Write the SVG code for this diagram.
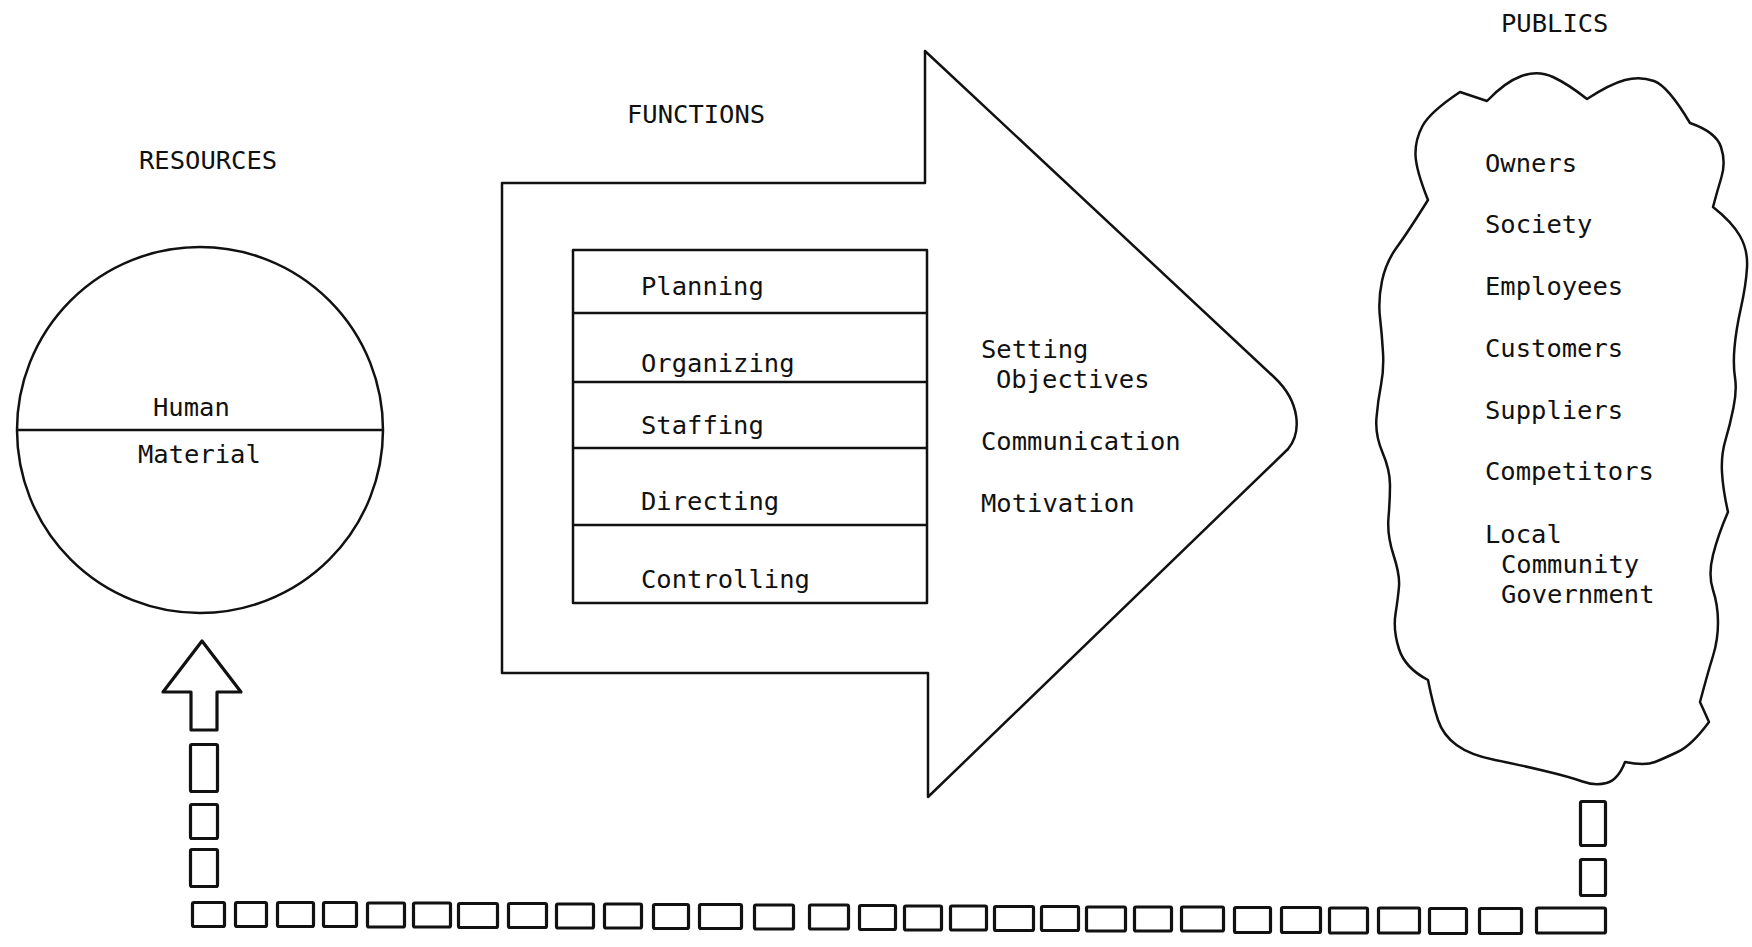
<svg xmlns="http://www.w3.org/2000/svg" width="1752" height="947" viewBox="0 0 1752 947">
<style>
.t{font-family:"DejaVu Sans Mono","Liberation Mono",monospace;font-size:25.5px;fill:#111}
.o{fill:none;stroke:#111;stroke-width:2.5;stroke-linejoin:round}
.b{fill:none;stroke:#111;stroke-width:3.2;stroke-linejoin:round}
</style>
<rect width="1752" height="947" fill="#fff"/>
<g id="resources">
<text class="t" x="139" y="169">RESOURCES</text>
<circle class="o" cx="200" cy="430" r="183" stroke-width="2"/>
<line class="o" x1="17" y1="430" x2="383" y2="430"/>
<text class="t" x="153" y="416">Human</text>
<text class="t" x="138" y="463">Material</text>
</g>
<g id="functions">
<text class="t" x="627" y="123">FUNCTIONS</text>
<path class="o" d="M502 183 L925 183 L925 51 L1275 378 C1300 402 1302 432 1288 449 L928 797 L928 673 L502 673 Z"/>
<rect class="o" x="573" y="250" width="354" height="353"/>
<line class="o" x1="573" y1="313" x2="927" y2="313"/>
<line class="o" x1="573" y1="382" x2="927" y2="382"/>
<line class="o" x1="573" y1="448" x2="927" y2="448"/>
<line class="o" x1="573" y1="525" x2="927" y2="525"/>
<text class="t" x="641" y="295">Planning</text>
<text class="t" x="641" y="372">Organizing</text>
<text class="t" x="641" y="434">Staffing</text>
<text class="t" x="641" y="510">Directing</text>
<text class="t" x="641" y="588">Controlling</text>
<text class="t" x="981" y="358">Setting</text>
<text class="t" x="996" y="388">Objectives</text>
<text class="t" x="981" y="450">Communication</text>
<text class="t" x="981" y="512">Motivation</text>
</g>
<g id="publics">
<text class="t" x="1501" y="32">PUBLICS</text>
<path class="o" d="M1460 92 L1487 101 Q1505 82 1521.5 76 Q1538 70 1553 77 Q1568 84 1587 99 Q1610 84 1625 80 Q1640 76 1654 81 Q1668 86 1690 123 Q1716 132 1721 147 Q1726 162 1721.5 177 Q1717 192 1713 207 Q1732 222 1740 236 Q1748 250 1747 267.5 Q1746 285 1741 307.5 Q1736 330 1734.5 347.5 Q1733 365 1735 377.5 Q1737 390 1733.5 407.5 Q1730 425 1725.5 440 Q1721 455 1722 472.5 Q1723 490 1728 512 Q1718 535 1713 555 Q1708 575 1713 590 Q1718 605 1718 622.5 Q1718 640 1713 656 Q1708 672 1700 702 L1709 722 Q1692 745 1678.5 751.5 Q1665 758 1655 762 Q1645 766 1625 762 Q1618 780 1606.5 783 Q1595 786 1582.5 781.5 Q1570 777 1545 771 Q1520 765 1495 760 Q1470 755 1456.5 745 Q1443 735 1438 720 Q1433 705 1428 680 Q1405 668 1399 649 Q1393 630 1395.5 614 Q1398 598 1399 586.5 Q1400 575 1393.5 555 Q1387 535 1388.5 517.5 Q1390 500 1390 485 Q1390 470 1382.5 452.5 Q1375 435 1376.5 417.5 Q1378 400 1381 385 Q1384 370 1383 352.5 Q1382 335 1380 317.5 Q1378 300 1382 281 Q1386 262 1397 247 Q1408 232 1428 200 Q1416 170 1415.5 155 Q1415 140 1422.5 126 Q1430 112 1460 92 Z"/>
<text class="t" x="1485" y="172">Owners</text>
<text class="t" x="1485" y="233">Society</text>
<text class="t" x="1485" y="295">Employees</text>
<text class="t" x="1485" y="357">Customers</text>
<text class="t" x="1485" y="419">Suppliers</text>
<text class="t" x="1485" y="480">Competitors</text>
<text class="t" x="1485" y="543">Local</text>
<text class="t" x="1501" y="573">Community</text>
<text class="t" x="1501" y="603">Government</text>
</g>
<g id="connectors">
<path class="b" d="M191 730 L191 692 L163 692 L202 641 L241 692 L217 692 L217 730 Z"/>
<rect class="b" x="190.5" y="744.5" width="27" height="47" rx="1.5"/>
<rect class="b" x="190.5" y="804.5" width="27" height="34" rx="1.5"/>
<rect class="b" x="190.5" y="849.5" width="27" height="37" rx="1.5"/>
<g>
<rect class="b" x="192.5" y="902.5" width="32" height="24" rx="1.5"/>
<rect class="b" x="235.5" y="902.5" width="31" height="24" rx="1.5"/>
<rect class="b" x="277.5" y="902.5" width="36" height="24" rx="1.5"/>
<rect class="b" x="323.5" y="902.5" width="33" height="24" rx="1.5"/>
<rect class="b" x="367.5" y="903" width="37" height="24" rx="1.5"/>
<rect class="b" x="413.5" y="903" width="37" height="24" rx="1.5"/>
<rect class="b" x="458.5" y="903.5" width="39" height="24" rx="1.5"/>
<rect class="b" x="508.5" y="903.5" width="38" height="24" rx="1.5"/>
<rect class="b" x="556.5" y="904" width="37" height="24" rx="1.5"/>
<rect class="b" x="604.5" y="904" width="37" height="24" rx="1.5"/>
<rect class="b" x="653.5" y="904.5" width="35" height="24" rx="1.5"/>
<rect class="b" x="699.5" y="904.5" width="42" height="24" rx="1.5"/>
<rect class="b" x="754.5" y="905" width="39" height="24" rx="1.5"/>
<rect class="b" x="809.5" y="905" width="39" height="24" rx="1.5"/>
<rect class="b" x="859.5" y="905.5" width="36" height="24" rx="1.5"/>
<rect class="b" x="904.5" y="906" width="37" height="24" rx="1.5"/>
<rect class="b" x="950.5" y="906" width="36" height="24" rx="1.5"/>
<rect class="b" x="994.5" y="906.5" width="39" height="24" rx="1.5"/>
<rect class="b" x="1041.5" y="906.5" width="37" height="24" rx="1.5"/>
<rect class="b" x="1086.5" y="907" width="39" height="24" rx="1.5"/>
<rect class="b" x="1134.5" y="907" width="37" height="24" rx="1.5"/>
<rect class="b" x="1181.5" y="907" width="42" height="24" rx="1.5"/>
<rect class="b" x="1234.5" y="907.5" width="36" height="25" rx="1.5"/>
<rect class="b" x="1281.5" y="907.5" width="39" height="25" rx="1.5"/>
<rect class="b" x="1329.5" y="908" width="38" height="25" rx="1.5"/>
<rect class="b" x="1378.5" y="908" width="41" height="25" rx="1.5"/>
<rect class="b" x="1429.5" y="908.5" width="37" height="25" rx="1.5"/>
<rect class="b" x="1479.5" y="908.5" width="42" height="25" rx="1.5"/>
<rect class="b" x="1536.5" y="908" width="69" height="25" rx="1.5"/>
</g>
<rect class="b" x="1580.5" y="801.5" width="25" height="44" rx="1.5"/>
<rect class="b" x="1580.5" y="859.5" width="25" height="36" rx="1.5"/>
</g>
</svg>
